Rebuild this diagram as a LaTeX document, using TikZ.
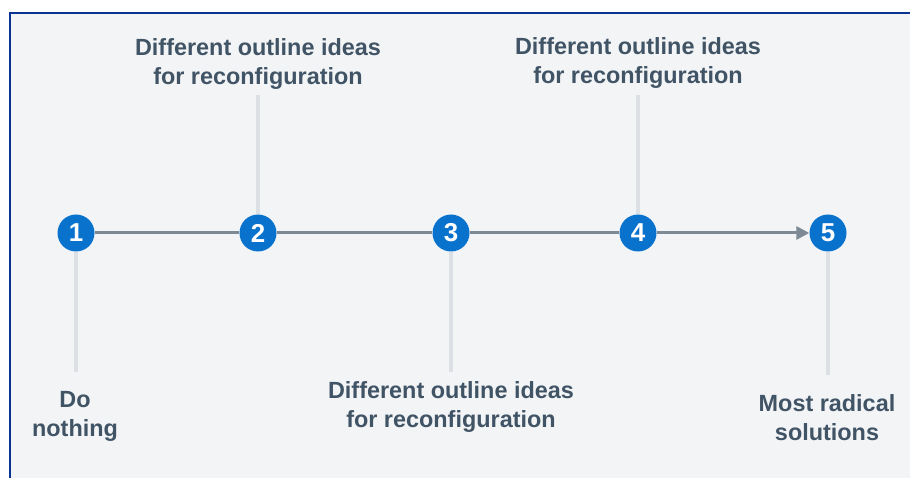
\documentclass[tikz,border=0pt]{standalone}
\usepackage{fontspec}
\setmainfont{Liberation Sans}
\usetikzlibrary{arrows.meta, positioning}
\definecolor{panel}{HTML}{F2F4F6}
\definecolor{frame}{HTML}{0A3492}
\definecolor{stepblue}{HTML}{0872CC}
\definecolor{axisgray}{HTML}{7D8A95}
\definecolor{stemgray}{HTML}{DCDFE3}
\definecolor{labeltext}{HTML}{415466}

\begin{document}
\begin{tikzpicture}[
    x=1bp, y=-1bp,
    font=\bfseries\fontsize{23.5}{29}\selectfont,
    text=labeltext,
    num/.style={circle, fill=stepblue, text=white, minimum size=37bp, inner sep=0pt, font=\bfseries\fontsize{26}{26}\selectfont},
    stem/.style={draw=stemgray, line width=4bp},
    axis/.style={draw=axisgray, line width=3bp},
    note/.style={align=center, inner sep=0pt},
]
% panel and frame
\useasboundingbox (0,0) rectangle (910,478);
\fill[panel] (10,13) rectangle (910,478);
\draw[frame, line width=2.5bp] (10,478) -- (10,13) -- (910,13);

\node[num] (n1) at (76,233) {1};
\node[num] (n2) at (258,233) {2};
\node[num] (n3) at (451,233) {3};
\node[num] (n4) at (638,233) {4};
\node[num] (n5) at (828,233) {5};

\node[note] (l1) at (75,416) {Do\\nothing};
\node[note] (l2) at (258,64) {Different outline ideas\\for reconfiguration};
\node[note] (l3) at (451,407) {Different outline ideas\\for reconfiguration};
\node[note] (l4) at (638,63) {Different outline ideas\\for reconfiguration};
\node[note] (l5) at (827,418) {Most radical\\solutions};

\coordinate (s1) at (76,372);
\coordinate (s2) at (258,95);
\coordinate (s3) at (451,372);
\coordinate (s4) at (638,95);
\coordinate (s5) at (828,375);

\draw[stem] (n1) -- (s1);
\draw[stem] (n2) -- (s2);
\draw[stem] (n3) -- (s3);
\draw[stem] (n4) -- (s4);
\draw[stem] (n5) -- (s5);

\draw[axis] (n1) -- (n2);
\draw[axis] (n2) -- (n3);
\draw[axis] (n3) -- (n4);
\draw[axis, -{Triangle[length=13bp, width=13bp]}] (n4) -- (n5);
\end{tikzpicture}
\end{document}
